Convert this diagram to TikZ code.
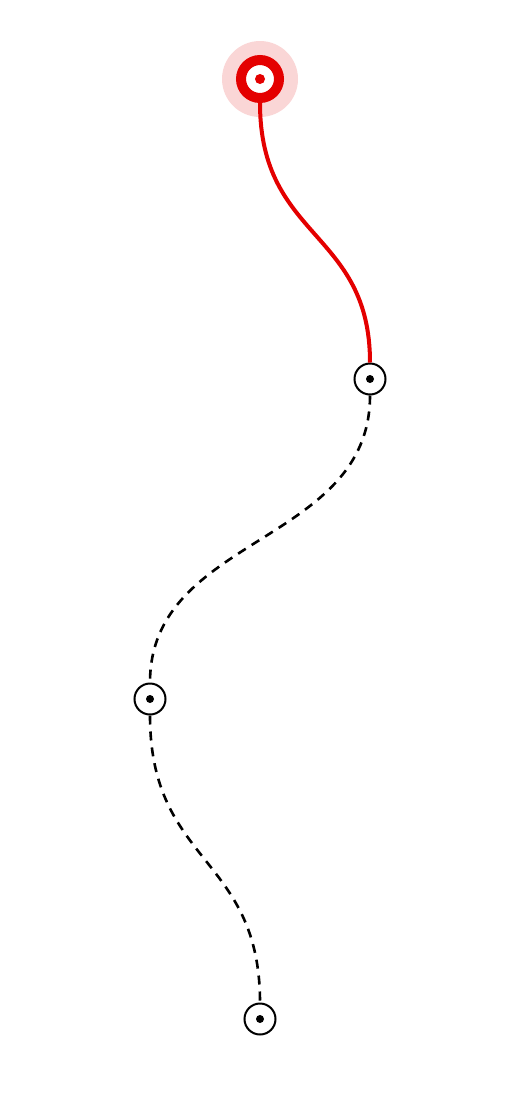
\documentclass[tikz,border=0pt]{standalone}
\usepackage{xcolor}
\usepackage{tikz}
\usetikzlibrary{calc,positioning}

\definecolor{routered}{RGB}{228,0,0}
\definecolor{halopink}{RGB}{250,214,214}

\begin{document}
\begin{tikzpicture}[x=1pt, y=-1pt,
    waypoint/.style={circle, draw=black, line width=2pt, fill=white, minimum size=31pt, inner sep=0pt,
        path picture={\fill[black] (path picture bounding box.center) circle (4pt);}},
    startpoint/.style={circle, draw=routered, line width=10pt, fill=white, minimum size=38pt, inner sep=0pt,
        path picture={\fill[routered] (path picture bounding box.center) circle (5pt);}},
    walked/.style={routered, line width=4pt},
    ahead/.style={black, line width=2.6pt, dash pattern=on 9pt off 7pt}]

% Page frame
\useasboundingbox (0,0) rectangle (520,1100);

% Halo behind the current position
\fill[halopink] (260,79) circle (38pt);

% Stops along the route
\node[startpoint] (start) at (260,79) {};
\node[waypoint] (stopA) at (370,379) {};
\node[waypoint] (stopB) at (150,699) {};
\node[waypoint] (stopC) at (260,1019) {};

% Route already covered
\draw[walked] (start.south) .. controls (260,240) and (370,230) .. (stopA.north);

% Route still to go
\draw[ahead] (stopA.south) .. controls (370,545) and (150,535) .. (stopB.north);
\draw[ahead] (stopB.south) .. controls (150,865) and (260,855) .. (stopC.north);

\end{tikzpicture}
\end{document}
